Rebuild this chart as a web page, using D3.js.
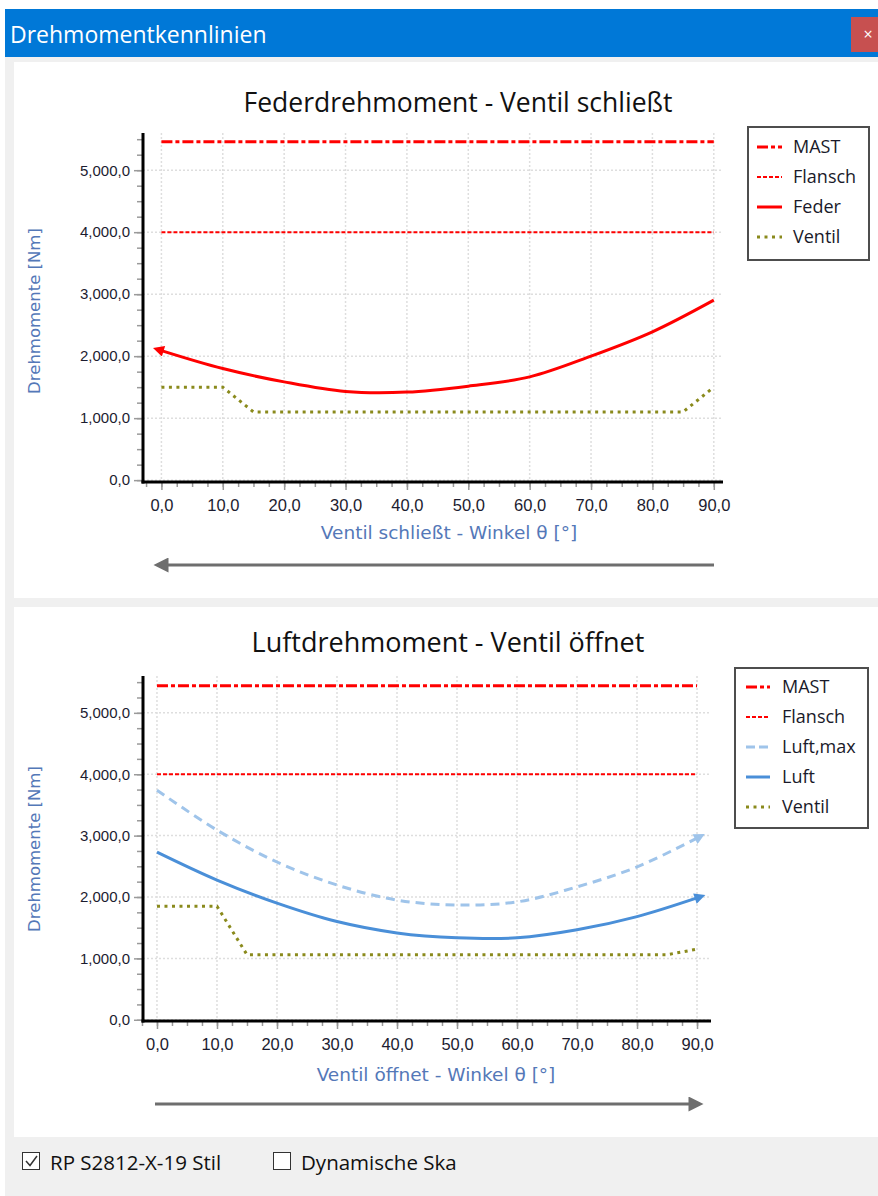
<!DOCTYPE html>
<html>
<head>
<meta charset="utf-8">
<script src="https://cdn.jsdelivr.net/npm/d3@7"></script>
<style>
html,body{margin:0;padding:0;background:#fff;}
svg{display:block;}
</style>
</head>
<body>
<script>
// ---------- data ----------
const windowTitle = "Drehmomentkennlinien";
const topTitle = "Federdrehmoment - Ventil schließt";
const bottomTitle = "Luftdrehmoment - Ventil öffnet";
const yTitle = "Drehmomente [Nm]";
const topXTitle = "Ventil schließt - Winkel θ [°]";
const bottomXTitle = "Ventil öffnet - Winkel θ [°]";
const xTicks = [0,10,20,30,40,50,60,70,80,90];
const yTicks = [0,1000,2000,3000,4000,5000];

const angles = [0,10,20,30,40,50,60,70,80,90];
const mastTop = 5460;
const flanschTop = 4000;
const feder = [2090,1800,1585,1430,1420,1516,1666,2000,2392,2903];
const ventilTopAngles = [0,10,15,85,90];
const ventilTop = [1500,1500,1100,1100,1500];

const mastBottom = 5440;
const flanschBottom = 4000;
const luftMax = [3740,3090,2570,2195,1950,1870,1920,2165,2490,2960];
const luft = [2730,2275,1900,1600,1415,1335,1335,1465,1680,1985];
const ventilBottomAngles = [0,10,15,85,90];
const ventilBottom = [1850,1850,1060,1060,1150];

const legendTop = ["MAST","Flansch","Feder","Ventil"];
const legendBottom = ["MAST","Flansch","Luft,max","Luft","Ventil"];
const checkboxes = [{label:"RP S2812-X-19 Stil",checked:true},{label:"Dynamische Ska",checked:false}];

// ---------- styles ----------
const ST = {
  MAST:{color:"#ff0000",w:3,dash:"11,3,4,3"},
  Flansch:{color:"#ff0000",w:2,dash:"4,2"},
  Feder:{color:"#ff0000",w:3,dash:null},
  Ventil:{color:"#8a8a1c",w:3,dash:"3,4.5"},
  "Luft,max":{color:"#9fc4ea",w:3,dash:"9,6"},
  Luft:{color:"#4a8fd8",w:3,dash:null}
};

const W=878,H=1196;
const svg=d3.select("body").append("svg").attr("width",W).attr("height",H);
const defs=svg.append("defs");
function marker(id,color){
  defs.append("marker").attr("id",id).attr("viewBox","0 0 10 10")
    .attr("refX",2).attr("refY",5).attr("markerUnits","userSpaceOnUse")
    .attr("markerWidth",12).attr("markerHeight",11).attr("orient","auto-start-reverse")
    .append("path").attr("d","M0,0 L10,5 L0,10 z").attr("fill",color);
}
marker("arRed","#ff0000");
marker("arBlue","#4a8fd8");
marker("arLBlue","#9fc4ea");
defs.append("marker").attr("id","arGray").attr("viewBox","0 0 10 10")
  .attr("refX",1).attr("refY",5).attr("markerUnits","userSpaceOnUse")
  .attr("markerWidth",17).attr("markerHeight",15).attr("orient","auto-start-reverse")
  .append("path").attr("d","M0,0 L10,5 L0,10 z").attr("fill","#6e6e6e");

const sansUI="'Open Sans','Noto Sans',sans-serif";
const wide="'DejaVu Sans',sans-serif";
const arial="'Liberation Sans',Arial,sans-serif";

// window chrome
svg.append("rect").attr("x",5).attr("y",9).attr("width",W-5).attr("height",H-9).attr("fill","#f0f0f0");
svg.append("rect").attr("x",5).attr("y",9).attr("width",W-5).attr("height",48).attr("fill","#0078d7");
svg.append("text").attr("x",10).attr("y",43).text(windowTitle)
  .attr("font-family",sansUI).attr("font-size",23).attr("fill","#fff");
svg.append("rect").attr("x",851).attr("y",17).attr("width",27).attr("height",35).attr("fill","#c75050");
svg.append("text").attr("x",868).attr("y",40).text("×").attr("text-anchor","middle")
  .attr("font-family",sansUI).attr("font-size",16).attr("fill","#fff");

svg.append("rect").attr("x",14).attr("y",62).attr("width",W-14).attr("height",536).attr("fill","#fff");
svg.append("rect").attr("x",14).attr("y",607).attr("width",W-14).attr("height",530).attr("fill","#fff");

const fmt = v => d3.format(",.1f")(v).replace(/\.(\d)$/,",$1");

function chart(cfg){
  const g=svg.append("g");
  const x=d3.scaleLinear().domain(cfg.xDom).range(cfg.xRange);
  const y=d3.scaleLinear().domain(cfg.yDom).range(cfg.yRange);
  const [x0,x1]=cfg.xRange, [yb,yt]=cfg.yRange;
  // grid
  const grid=g.append("g").attr("stroke","#dedede").attr("stroke-width",1.5).attr("stroke-dasharray","2,2");
  grid.selectAll(".vg").data(xTicks).join("line").attr("x1",d=>x(d)).attr("x2",d=>x(d)).attr("y1",yt).attr("y2",yb);
  grid.selectAll(".hg").data(yTicks).join("line").attr("y1",d=>y(d)).attr("y2",d=>y(d)).attr("x1",x0).attr("x2",x1);
  // minor axes
  const yMinor=d3.range(0,5600,250), xMinor=d3.range(-2.5,92,2.5);
  const ym=g.append("g").attr("transform",`translate(${x0},0)`)
    .call(d3.axisLeft(y).tickValues(yMinor).tickSize(6).tickFormat(""));
  const xm=g.append("g").attr("transform",`translate(0,${yb})`)
    .call(d3.axisBottom(x).tickValues(xMinor).tickSize(5).tickFormat(""));
  [ym,xm].forEach(a=>{a.select(".domain").remove();a.selectAll("line").attr("stroke","#9a9a9a").attr("stroke-width",1.5);});
  const ya=g.append("g").attr("transform",`translate(${x0},0)`)
    .call(d3.axisLeft(y).tickValues(yTicks).tickSize(9).tickPadding(4).tickFormat(fmt));
  const xa=g.append("g").attr("transform",`translate(0,${yb})`)
    .call(d3.axisBottom(x).tickValues(xTicks).tickSize(8).tickPadding(9).tickFormat(fmt));
  [ya,xa].forEach(a=>{
    a.select(".domain").remove();
    a.selectAll("line").attr("stroke","#9a9a9a").attr("stroke-width",1.5);
    a.selectAll("text").attr("font-family",arial).attr("fill","#1c1c30");
  });
  ya.selectAll("text").attr("font-size",15);
  xa.selectAll("text").attr("font-size",16.5);
  g.append("line").attr("x1",x0).attr("x2",x0).attr("y1",yt).attr("y2",yb+1.5).attr("stroke","#000").attr("stroke-width",3);
  g.append("line").attr("x1",x0-1.5).attr("x2",x1).attr("y1",yb).attr("y2",yb).attr("stroke","#000").attr("stroke-width",3);

  // series
  const lineC=d3.line().x(d=>x(d[0])).y(d=>y(d[1])).curve(d3.curveCatmullRom.alpha(0.5));
  const lineL=d3.line().x(d=>x(d[0])).y(d=>y(d[1]));
  cfg.series.forEach(s=>{
    const st=ST[s.name];
    const p=g.append("path").attr("d",(s.curved?lineC:lineL)(s.xs.map((a,i)=>[a,s.ys[i]])))
      .attr("fill","none").attr("stroke",st.color).attr("stroke-width",st.w);
    if(st.dash)p.attr("stroke-dasharray",st.dash);
    if(s.markStart)p.attr("marker-start",`url(#${s.marker})`);
    if(s.markEnd)p.attr("marker-end",`url(#${s.marker})`);
  });
  // titles
  g.append("text").attr("x",cfg.titleX).attr("y",cfg.titleY).attr("text-anchor","middle").text(cfg.title)
    .attr("font-family",sansUI).attr("font-size",cfg.titleSize).attr("fill","#111");
  g.append("text").attr("transform",`translate(40,${cfg.yTitleY}) rotate(-90)`).attr("text-anchor","middle").text(yTitle)
    .attr("font-family",wide).attr("font-size",16.5).attr("fill","#5478b8");
  g.append("text").attr("x",cfg.xTitleX).attr("y",cfg.xTitleY).attr("text-anchor","middle").text(cfg.xTitle)
    .attr("font-family",wide).attr("font-size",18.5).attr("fill","#5478b8");
  // direction arrow
  g.append("line").attr("x1",cfg.arrow[0]).attr("x2",cfg.arrow[1]).attr("y1",cfg.arrow[2]).attr("y2",cfg.arrow[2])
    .attr("stroke","#6e6e6e").attr("stroke-width",3).attr("marker-end","url(#arGray)");
  // legend
  const L=cfg.legend;
  g.append("rect").attr("x",L.x).attr("y",L.y).attr("width",L.w).attr("height",L.h)
    .attr("fill","#fff").attr("stroke","#4d4d4d").attr("stroke-width",2);
  L.items.forEach((name,i)=>{
    const st=ST[name], yy=L.y0+i*L.dy;
    const ln=g.append("line").attr("x1",L.lx0).attr("x2",L.lx1).attr("y1",yy).attr("y2",yy)
      .attr("stroke",st.color).attr("stroke-width",st.w);
    if(st.dash)ln.attr("stroke-dasharray",name==="Luft,max"?"9,4":st.dash);
    g.append("text").attr("x",L.tx).attr("y",yy+6).text(name)
      .attr("font-family",sansUI).attr("font-size",18).attr("fill","#1a1a2a");
  });
}

chart({
  xDom:[-3,91.5], xRange:[143,723], yDom:[-30,5600], yRange:[482,133],
  title:topTitle, titleSize:26.5, titleX:458, titleY:112, yTitleY:311, xTitle:topXTitle, xTitleX:449, xTitleY:539,
  arrow:[714,167,565],
  series:[
    {name:"MAST",xs:[0,90],ys:[mastTop,mastTop]},
    {name:"Flansch",xs:[0,90],ys:[flanschTop,flanschTop]},
    {name:"Ventil",xs:ventilTopAngles,ys:ventilTop},
    {name:"Feder",xs:angles,ys:feder,curved:true,markStart:true,marker:"arRed"}
  ],
  legend:{x:748,y:127,w:121,h:133,items:legendTop,y0:147,dy:30,lx0:757,lx1:782,tx:793}
});

chart({
  xDom:[-2.33,92.33], xRange:[143,711], yDom:[-20,5600], yRange:[1021,676],
  title:bottomTitle, titleSize:27, titleX:448, titleY:652, yTitleY:849, xTitle:bottomXTitle, xTitleX:436, xTitleY:1081,
  arrow:[155,690,1104],
  series:[
    {name:"MAST",xs:[0,90],ys:[mastBottom,mastBottom]},
    {name:"Flansch",xs:[0,90],ys:[flanschBottom,flanschBottom]},
    {name:"Ventil",xs:ventilBottomAngles,ys:ventilBottom},
    {name:"Luft,max",xs:angles,ys:luftMax,curved:true,markEnd:true,marker:"arLBlue"},
    {name:"Luft",xs:angles,ys:luft,curved:true,markEnd:true,marker:"arBlue"}
  ],
  legend:{x:735,y:668,w:133,h:160,items:legendBottom,y0:687,dy:30,lx0:746,lx1:770,tx:782}
});

// checkboxes
const cbX=[22,273];
checkboxes.forEach((c,i)=>{
  const g=svg.append("g");
  g.append("rect").attr("x",cbX[i]+0.5).attr("y",1152.5).attr("width",17).attr("height",17)
    .attr("fill","#fff").attr("stroke","#333").attr("stroke-width",1);
  if(c.checked)g.append("path").attr("d",`M${cbX[i]+4},${1161} L${cbX[i]+8},${1165.5} L${cbX[i]+15},${1156}`)
    .attr("fill","none").attr("stroke","#333").attr("stroke-width",1.5);
  g.append("text").attr("x",cbX[i]+28).attr("y",1170).text(c.label)
    .attr("font-family",sansUI).attr("font-size",20.5).attr("fill","#111");
});
</script>
</body>
</html>
